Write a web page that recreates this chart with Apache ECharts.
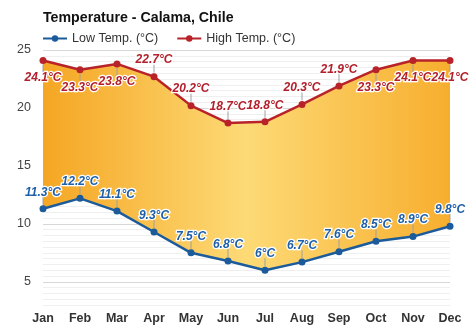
<!DOCTYPE html>
<html>
<head>
<meta charset="utf-8">
<script src="https://cdn.jsdelivr.net/npm/echarts@6/dist/echarts.min.js"></script>
<style>
html,body{margin:0;padding:0;background:#fff;}
#c{width:474px;height:331px;}
</style>
</head>
<body>
<div id="c"></div>
<script>
var months = ['Jan','Feb','Mar','Apr','May','Jun','Jul','Aug','Sep','Oct','Nov','Dec'];
var lowTemps = [11.3, 12.2, 11.1, 9.3, 7.5, 6.8, 6.0, 6.7, 7.6, 8.5, 8.9, 9.8];
var highTemps = [24.1, 23.3, 23.8, 22.7, 20.2, 18.7, 18.8, 20.3, 21.9, 23.3, 24.1, 24.1];
var lowName = 'Low Temp. (°C)';
var highName = 'High Temp. (°C)';
var yTicks = [5, 10, 15, 20, 25];

// label placement (style, not data): which high labels sit below their point
var highBelow = {0:1, 1:1, 2:1, 9:1, 10:1, 11:1};

var bandDiff = highTemps.map(function(h, i){ return +(h - lowTemps[i]).toFixed(2); });

function fmt(p){ return p.value + '°C'; }

var labelBase = {
  show: true,
  fontFamily: 'Liberation Sans, Arial, sans-serif',
  fontSize: 12,
  fontWeight: 'bold',
  fontStyle: 'italic',
  textBorderColor: '#fff',
  textBorderWidth: 2.5,
  formatter: fmt
};

var highData = highTemps.map(function(v, i){
  return {
    value: v,
    label: highBelow[i] ? {position: 'bottom', distance: 8} : {position: 'top', distance: 7}
  };
});

// leader line data: [categoryIndex, value, direction(-1 up, 1 down)]
var leaderData = [];
lowTemps.forEach(function(v, i){ leaderData.push([i, v, -1]); });
highTemps.forEach(function(v, i){ leaderData.push([i, v, highBelow[i] ? 1 : -1]); });

function renderLeader(params, api){
  var p = api.coord([api.value(0), api.value(1)]);
  var d = api.value(2);
  return {
    type: 'line',
    shape: {x1: p[0], y1: p[1] + d * 4, x2: p[0], y2: p[1] + d * 12},
    style: {stroke: '#a0a0a0', lineWidth: 1}
  };
}

var chart = echarts.init(document.getElementById('c'), null, {renderer: 'canvas'});
var minorColors = [];
for (var k = 0; k < 10; k++) minorColors.push(k === 4 ? '#d8d8d8' : '#efefef');

chart.setOption({
  animation: false,
  backgroundColor: '#fff',
  title: {
    text: 'Temperature - Calama, Chile',
    left: 38, top: 6,
    textStyle: {fontFamily: 'Liberation Sans, Arial, sans-serif', fontSize: 14.2, fontWeight: 'bold', color: '#111'}
  },
  legend: {
    data: [lowName, highName],
    left: 37, top: 27,
    itemWidth: 24, itemHeight: 8, itemGap: 18,
    textStyle: {fontFamily: 'Liberation Sans, Arial, sans-serif', fontSize: 12.5, color: '#333'}
  },
  grid: {left: 43, right: 24, top: 50, bottom: 26, containLabel: false},
  xAxis: {
    type: 'category',
    data: months,
    boundaryGap: false,
    axisLine: {show: false},
    axisTick: {show: false},
    splitLine: {show: false},
    axisLabel: {fontFamily: 'Liberation Sans, Arial, sans-serif', fontSize: 12.5, fontWeight: 'bold', color: '#333', margin: 7}
  },
  yAxis: {
    type: 'value',
    min: 3, max: 25, interval: 0.5,
    axisLine: {show: false},
    axisTick: {show: false},
    axisLabel: {
      fontFamily: 'Liberation Sans, Arial, sans-serif', fontSize: 12.5, color: '#444', margin: 12,
      formatter: function(v){ return yTicks.indexOf(v) >= 0 ? String(v) : ''; }
    },
    splitLine: {show: true, lineStyle: {color: minorColors, width: 1}}
  },
  series: [
    {
      name: 'base', type: 'line', stack: 'band', data: lowTemps,
      symbol: 'none', lineStyle: {width: 0, opacity: 0}, silent: true, z: 1
    },
    {
      name: 'band', type: 'line', stack: 'band', data: bandDiff,
      symbol: 'none', lineStyle: {width: 0, opacity: 0}, silent: true, z: 1,
      areaStyle: {
        opacity: 1,
        color: new echarts.graphic.LinearGradient(0, 0, 1, 0, [
          {offset: 0, color: '#f5a623'},
          {offset: 0.5, color: '#fdda76'},
          {offset: 1, color: '#f7ae2e'}
        ])
      }
    },
    {
      name: 'leaders', type: 'custom', data: leaderData, renderItem: renderLeader,
      silent: true, z: 3
    },
    {
      name: lowName, type: 'line', data: lowTemps,
      color: '#1b5b9b',
      symbol: 'circle', symbolSize: 7,
      lineStyle: {width: 2.5, color: '#1b5b9b'},
      itemStyle: {color: '#1b5b9b'},
      label: Object.assign({}, labelBase, {position: 'top', distance: 7, color: '#1d5fa8'}),
      z: 5
    },
    {
      name: highName, type: 'line', data: highData,
      color: '#b8232a',
      symbol: 'circle', symbolSize: 7,
      lineStyle: {width: 2.5, color: '#b8232a'},
      itemStyle: {color: '#b8232a'},
      label: Object.assign({}, labelBase, {color: '#b3202b'}),
      z: 5
    }
  ]
});
</script>
</body>
</html>
